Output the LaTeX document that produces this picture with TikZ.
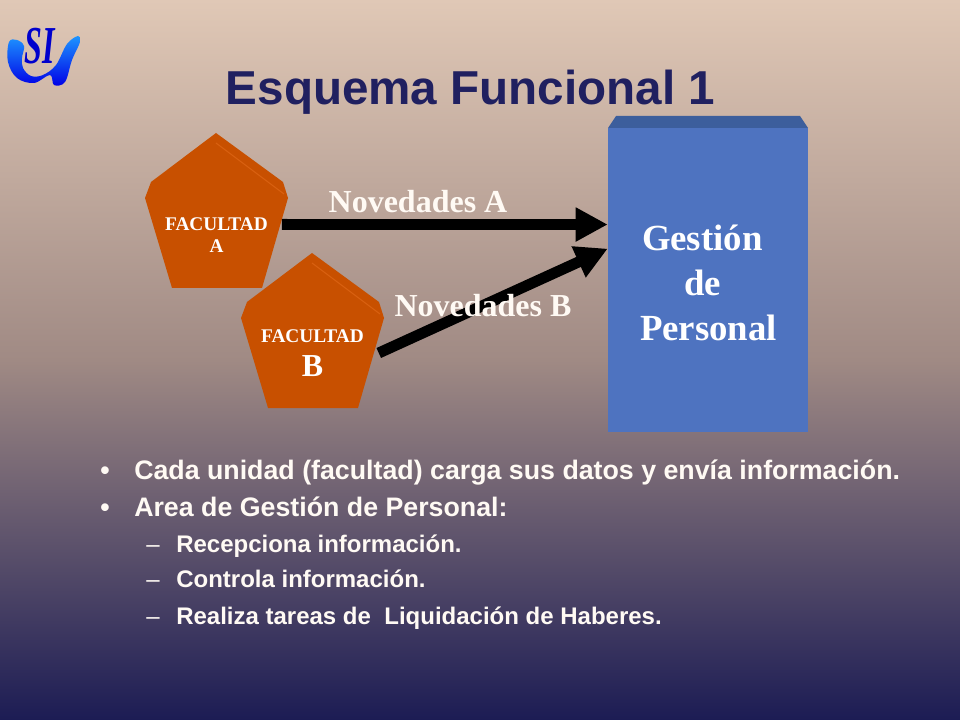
\documentclass[tikz,border=0pt]{standalone}
\usepackage{fontspec}
\setmainfont{Liberation Serif}
\newfontfamily\arialfont{Liberation Sans}
\usetikzlibrary{arrows.meta}
\definecolor{fondoA}{RGB}{224,200,182}
\definecolor{fondoB}{RGB}{160,138,132}
\definecolor{fondoC}{RGB}{28,28,84}
\definecolor{titulo}{RGB}{32,32,96}
\definecolor{naranja}{RGB}{200,80,0}
\definecolor{naranjaclaro}{RGB}{216,96,16}
\definecolor{azulcaja}{RGB}{78,115,192}
\definecolor{azultapa}{RGB}{60,94,156}
\definecolor{blanco}{RGB}{255,250,244}
\definecolor{logoclaro}{RGB}{30,150,255}
\definecolor{logooscuro}{RGB}{0,0,230}
\definecolor{logotexto}{RGB}{0,0,205}
\tikzset{
  flecha/.style={-{Triangle[length=24pt,width=24pt]}, line width=8.2pt, black},
  rotulo/.style={font=\fontsize{24}{28}\selectfont\bfseries, text=blanco, inner sep=0pt},
  facultadtxt/.style={font=\fontsize{14.5}{17}\selectfont\bfseries, text=white, align=center, inner sep=0pt},
  item/.style={font=\arialfont\fontsize{20.07}{24}\selectfont\bfseries, text=blanco, anchor=base west, inner sep=0pt},
  subitem/.style={font=\arialfont\fontsize{18}{22}\selectfont\bfseries, text=blanco, anchor=base west, inner sep=0pt}
}
\newcommand{\pentagono}[2]{
  \begin{scope}[shift={(#1,#2)}]
    \fill [naranja] (216,133) -- (283,182) -- (288,198) -- (262,288) -- (172,288) -- (145,198) -- (151,182) -- cycle;
    \draw [naranjaclaro, line width=0.8pt] (216,143) -- (284,194);
  \end{scope}
}

\begin{document}
\begin{tikzpicture}[x=0.75pt, y=-0.75pt]
      \shade [top color=fondoA, bottom color=fondoC, middle color=fondoB] (0,0) rectangle (960,720);
      \useasboundingbox (0,0) rectangle (960,720);

      % logo
      \shade [top color=logoclaro, bottom color=logooscuro]
        plot [smooth cycle, tension=0.6] coordinates {(9,42) (17,40) (24,46) (22,58) (23,68) (31,76) (43,75) (56,65) (67,44) (78,36) (80,42) (72,60) (65,82) (54,85) (50,75) (34,83) (17,78) (8,62)};
      \node [name=logo, font=\fontsize{40}{40}\selectfont\bfseries\itshape, text=logotexto, inner sep=0pt, xscale=0.6] at (40,46) {SI};

      \node [name=title, font=\arialfont\fontsize{35.7}{40}\selectfont\bfseries, text=titulo, inner sep=0pt] at (470.5,92) {Esquema Funcional 1};

      % caja
      \fill [azultapa] (608,128) -- (616,116) -- (800,116) -- (808,128) -- cycle;
      \node [name=gestion, fill=azulcaja, minimum width=150pt, minimum height=228pt, inner sep=0pt] at (708,280) {};

      % facultades
      \pentagono{0}{0}
      \pentagono{96}{120}
      \node [facultadtxt, name=facA, minimum width=97.5pt] at (216.5,235) {FACULTAD\\A};
      \node [facultadtxt, name=facB, minimum width=99pt] at (312.5,353) {FACULTAD\\[9pt]{\fontsize{24}{24}\selectfont B}};

      \draw [flecha] ([yshift=7.9pt]facA.east) -- ([yshift=41.6pt]gestion.west);
      \draw [flecha] (facB.east) -- ([yshift=23.5pt]gestion.west);

      \node [rotulo, name=novA] at (418,202) {Novedades A};
      \node [rotulo, name=novB] at (483,306) {Novedades B};
      \node [name=gestiontxt, font=\fontsize{27.6}{34}\selectfont\bfseries, text=white, align=left, inner sep=0pt] at (708.5,283)
        {\hspace*{1.5pt}Gesti\'on\\\hspace*{33pt}de\\Personal};

      % textos
      \foreach \name/\ypos/\texto in {uno/479/{Cada unidad (facultad) carga sus datos y envía información.}, dos/516/{Area de Gestión de Personal:}} {
        \node [item, name=bullet\name] at (100,\ypos) {•};
        \node [item, name=item\name] at (134,\ypos) {\texto};
      }
      \foreach \name/\ypos/\texto in {tres/552/{Recepciona información.}, cuatro/587/{Controla información.}, cinco/624/{Realiza tareas de\ \ Liquidación de Haberes.}} {
        \node [subitem, name=guion\name] at (146,\ypos) {\mdseries –};
        \node [subitem, name=item\name] at (176,\ypos) {\texto};
      }
    \end{tikzpicture}
\end{document}
